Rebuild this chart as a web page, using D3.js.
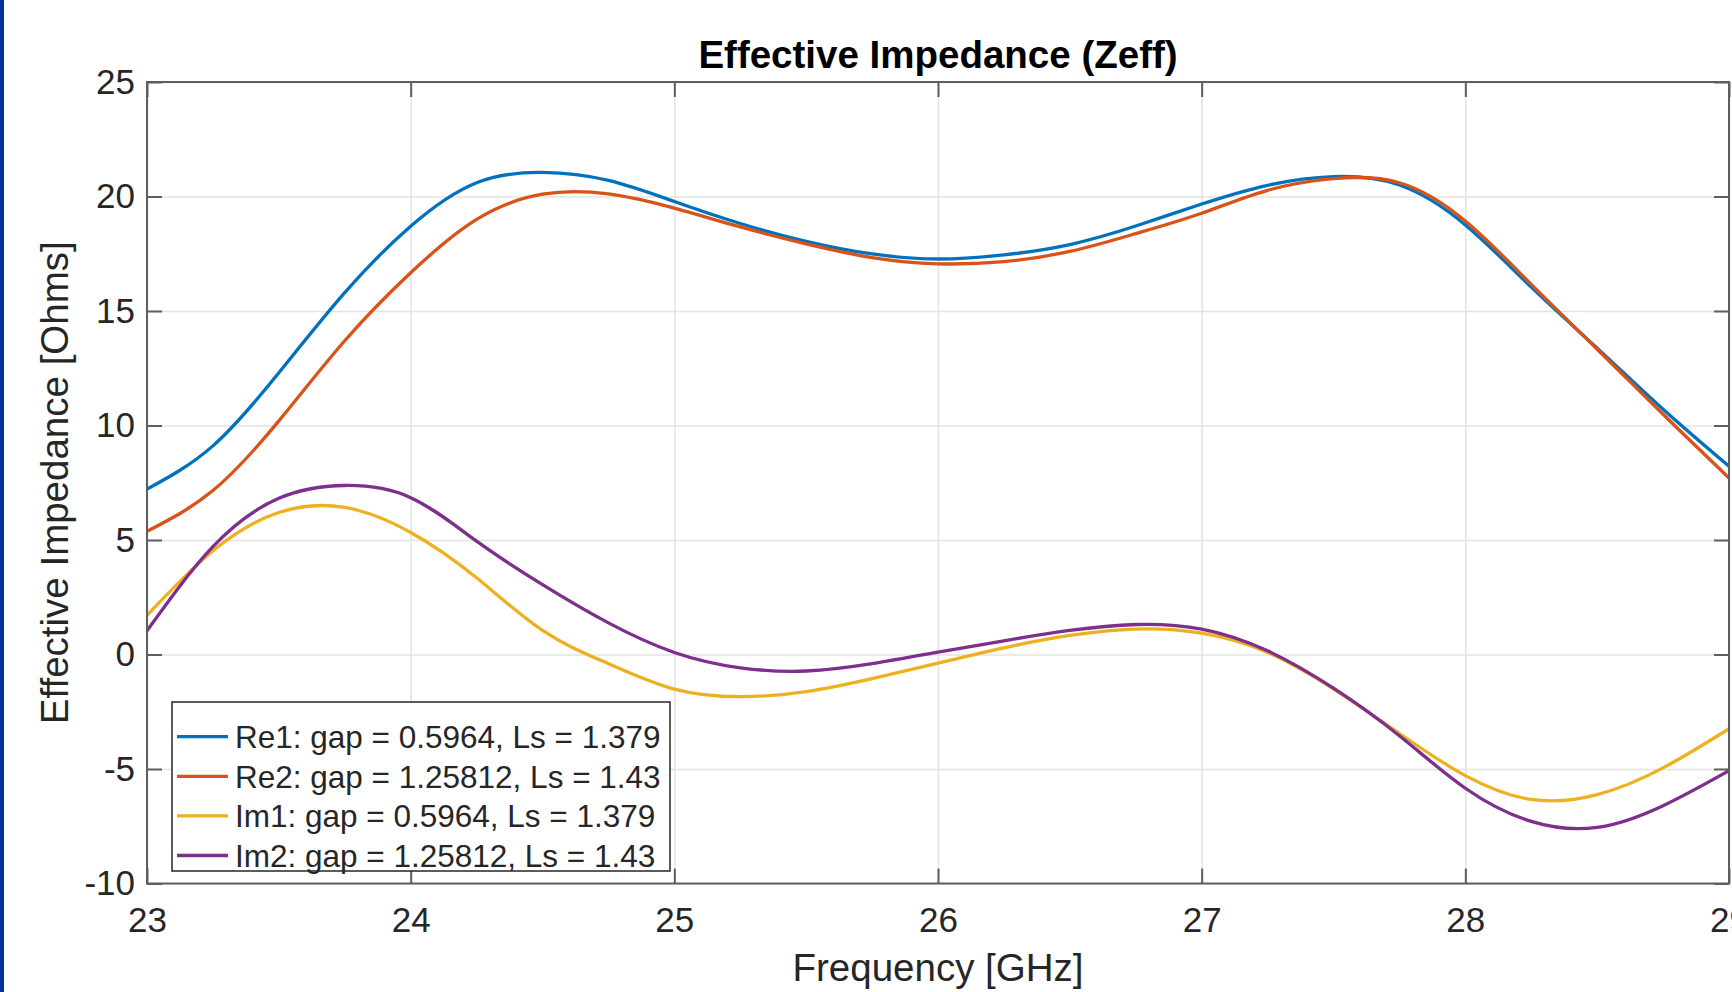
<!DOCTYPE html>
<html>
<head>
<meta charset="utf-8">
<script src="https://cdn.jsdelivr.net/npm/d3@7"></script>
<style>
    html, body { margin: 0; padding: 0; background: #ffffff; overflow: hidden; }
    #chart { width: 1732px; height: 992px; }
    text { font-family: "Liberation Sans", Arial, sans-serif; fill: #262626; }
</style>
</head>
<body>
<div id="chart"></div>
<script>
// Frequency samples [GHz]
const frequency = [23.00, 23.25, 23.50, 23.75, 24.00, 24.25, 24.50, 24.75, 25.00, 25.25, 25.50, 25.75,
                   26.00, 26.25, 26.50, 26.75, 27.00, 27.25, 27.50, 27.75, 28.00, 28.25, 28.50, 28.75, 29.00];

// Effective impedance [Ohms]
const re1 = [7.22, 9.11, 12.3, 15.8, 18.7, 20.6, 21.05, 20.7, 19.78, 18.82, 18.04, 17.49,
             17.27, 17.45, 17.9, 18.71, 19.67, 20.49, 20.87, 20.5, 18.76, 16.04, 13.38, 10.71, 8.22];
const re2 = [5.38, 7.16, 10.2, 13.7, 16.67, 19.0, 20.1, 20.11, 19.49, 18.67, 17.93, 17.33,
             17.06, 17.16, 17.6, 18.38, 19.27, 20.27, 20.78, 20.6, 18.93, 16.16, 13.33, 10.49, 7.71];
const im1 = [1.71, 4.53, 6.2, 6.42, 5.33, 3.35, 1.05, -0.4, -1.51, -1.84, -1.62, -1.05,
             -0.38, 0.29, 0.83, 1.11, 0.93, 0.09, -1.51, -3.45, -5.29, -6.33, -6.12, -4.95, -3.24];
const im2 = [1.04, 4.71, 6.82, 7.38, 6.85, 4.95, 3.05, 1.38, 0.09, -0.58, -0.72, -0.4,
             0.1, 0.6, 1.05, 1.31, 1.11, 0.16, -1.47, -3.55, -5.84, -7.29, -7.55, -6.6, -5.07];

const seriesValues = [re1, re2, im1, im2];
const seriesLabels = [
    "Re1: gap = 0.5964, Ls = 1.379",
    "Re2: gap = 1.25812, Ls = 1.43",
    "Im1: gap = 0.5964, Ls = 1.379",
    "Im2: gap = 1.25812, Ls = 1.43"
];
const seriesColors = ["#0072bd", "#d95319", "#edb120", "#7e2f8e"];

const xTicks = [23, 24, 25, 26, 27, 28, 29];
const yTicks = [-10, -5, 0, 5, 10, 15, 20, 25];

const TITLE = "Effective Impedance (Zeff)";
const X_LABEL = "Frequency [GHz]";
const Y_LABEL = "Effective Impedance [Ohms]";

// Layout
const WIDTH = 1732, HEIGHT = 992;
const margin = {left: 147, top: 82, right: 3, bottom: 108.5};
const plotW = WIDTH - margin.left - margin.right;
const plotH = HEIGHT - margin.top - margin.bottom;
const AXIS_COLOR = "#5e5e5e";
const GRID_COLOR = "#e3e3e3";
const TICK_LEN = 15;

// MATLAB style labels: plain hyphen, no trailing decimals
const tickText = d => String(d);

const svg = d3.select("#chart")
    .append("svg")
    .attr("width", WIDTH)
    .attr("height", HEIGHT);

// thin blue strip along the left edge of the screenshot
svg.append("rect")
    .attr("x", 0).attr("y", 0)
    .attr("width", 4).attr("height", HEIGHT)
    .attr("fill", "#0433a0");

const g = svg.append("g")
    .attr("transform", `translate(${margin.left},${margin.top})`);

const x = d3.scaleLinear().domain([23, 29]).range([0, plotW]);
const y = d3.scaleLinear().domain([-10, 25]).range([plotH, 0]);

// Grid
g.append("g")
    .attr("transform", `translate(0,${plotH})`)
    .call(d3.axisBottom(x).tickValues(xTicks).tickSize(-plotH).tickFormat(""))
    .call(a => a.select(".domain").remove())
    .call(a => a.selectAll("line").attr("stroke", GRID_COLOR).attr("stroke-width", 1.5));

g.append("g")
    .call(d3.axisLeft(y).tickValues(yTicks).tickSize(-plotW).tickFormat(""))
    .call(a => a.select(".domain").remove())
    .call(a => a.selectAll("line").attr("stroke", GRID_COLOR).attr("stroke-width", 1.5));

// Curves
g.append("clipPath").attr("id", "plotClip")
    .append("rect").attr("width", plotW).attr("height", plotH);

const line = d3.line()
    .x(d => x(d[0]))
    .y(d => y(d[1]))
    .curve(d3.curveNatural);

seriesValues.forEach((values, i) => {
    g.append("path")
        .datum(frequency.map((f, k) => [f, values[k]]))
        .attr("clip-path", "url(#plotClip)")
        .attr("fill", "none")
        .attr("stroke", seriesColors[i])
        .attr("stroke-width", 3.3)
        .attr("stroke-linejoin", "round")
        .attr("d", line);
});

// Axes with inward ticks on all four sides
function styleAxis(a) {
    a.select(".domain").remove();
    a.selectAll("line").attr("stroke", AXIS_COLOR).attr("stroke-width", 2);
    a.selectAll("text").attr("fill", "#262626").style("font-size", "35px")
        .style("font-family", '"Liberation Sans", Arial, sans-serif');
}

g.append("g")
    .attr("transform", `translate(0,${plotH})`)
    .call(d3.axisBottom(x).tickValues(xTicks).tickFormat(tickText)
        .tickSizeInner(-TICK_LEN).tickSizeOuter(0).tickPadding(23.5))
    .call(styleAxis);

g.append("g")
    .call(d3.axisTop(x).tickValues(xTicks).tickSizeInner(-TICK_LEN).tickSizeOuter(0).tickFormat(""))
    .call(styleAxis);

g.append("g")
    .call(d3.axisLeft(y).tickValues(yTicks).tickFormat(tickText)
        .tickSizeInner(-TICK_LEN).tickSizeOuter(0).tickPadding(12))
    .call(styleAxis);

g.append("g")
    .attr("transform", `translate(${plotW},0)`)
    .call(d3.axisRight(y).tickValues(yTicks).tickSizeInner(-TICK_LEN).tickSizeOuter(0).tickFormat(""))
    .call(styleAxis);

g.append("rect")
    .attr("width", plotW).attr("height", plotH)
    .attr("fill", "none")
    .attr("stroke", AXIS_COLOR)
    .attr("stroke-width", 2);

// Title and axis labels
svg.append("text")
    .attr("x", margin.left + plotW / 2)
    .attr("y", 68)
    .attr("text-anchor", "middle")
    .style("font-size", "38.5px")
    .style("font-weight", "bold")
    .style("fill", "#000")
    .text(TITLE);

svg.append("text")
    .attr("x", margin.left + plotW / 2)
    .attr("y", 981)
    .attr("text-anchor", "middle")
    .style("font-size", "38.5px")
    .text(X_LABEL);

svg.append("text")
    .attr("transform", `translate(68,${margin.top + plotH / 2}) rotate(-90)`)
    .attr("text-anchor", "middle")
    .style("font-size", "38.5px")
    .text(Y_LABEL);

// Legend (lower left, inside the axes)
const legend = svg.append("g").attr("transform", "translate(172,702)");
const LEGEND_ROW = 39.6;

legend.append("rect")
    .attr("width", 498).attr("height", 169)
    .attr("fill", "#fff")
    .attr("stroke", "#262626")
    .attr("stroke-width", 1.5);

seriesLabels.forEach((label, i) => {
    const rowY = 34.7 + i * LEGEND_ROW;
    legend.append("line")
        .attr("x1", 5).attr("x2", 56)
        .attr("y1", rowY).attr("y2", rowY)
        .attr("stroke", seriesColors[i])
        .attr("stroke-width", 3.3);
    legend.append("text")
        .attr("x", 63)
        .attr("y", rowY + 11.5)
        .style("font-size", "31.5px")
        .text(label);
});
</script>
</body>
</html>
